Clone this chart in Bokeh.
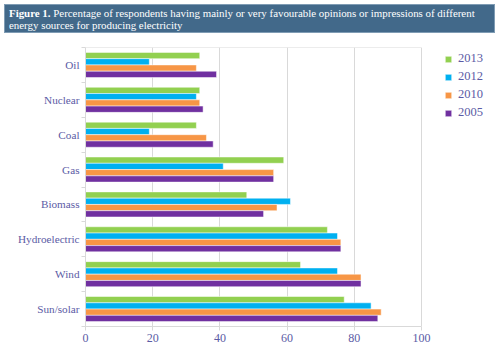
from bokeh.plotting import figure
from bokeh.models import (Range1d, FixedTicker, Legend, LegendItem, Div, ColumnDataSource)
from bokeh.layouts import column
from bokeh.embed import file_html
from bokeh.resources import INLINE

categories = ["Oil", "Nuclear", "Coal", "Gas", "Biomass", "Hydroelectric", "Wind", "Sun/solar"]
years = ["2013", "2012", "2010", "2005"]
v2013 = [34, 34, 33, 59, 48, 72, 64, 77]
v2012 = [19, 33, 19, 41, 61, 75, 75, 85]
v2010 = [33, 34, 36, 56, 57, 76, 82, 88]
v2005 = [39, 35, 38, 56, 53, 76, 82, 87]
x_ticks = [0, 20, 40, 60, 80, 100]

series = [v2013, v2012, v2010, v2005]
colors = ["#92d050", "#00b0f0", "#f79646", "#7030a0"]
offsets = [0.27, 0.09, -0.09, -0.27]
txt = "#5b5ba5"
gray = "#d9d9d9"
serif = "Liberation Serif"

n = len(categories)
centers = [n - i - 0.5 for i in range(n)]

title_html = ("<b>Figure 1.</b> Percentage of respondents having mainly or very favourable "
              "opinions or impressions of different energy sources for producing electricity")
div = Div(text=title_html, width=491, height=29, margin=(4, 3, 4, 4),
          styles={"background-color": "#42698a", "border": "1px solid #7f9cb4",
                  "color": "white", "font-family": serif, "font-size": "10.9px",
                  "line-height": "12px", "padding": "2px 4px", "box-sizing": "border-box",
                  "overflow": "hidden"})

# frame extends into the legend area; x scale keeps 0..100 over 336 px
frame_px = 498 - 85
x_end = x_ticks[-1] * frame_px / 336.0

p = figure(width=498, height=313, output_backend="svg", toolbar_location=None,
           x_range=Range1d(0, x_end), y_range=Range1d(0, n),
           min_border_left=85, min_border_right=0, min_border_top=10, min_border_bottom=24,
           margin=0)
p.outline_line_color = None
p.background_fill_color = "white"
p.border_fill_color = "white"

renderers = []
for yr, vals, c, off in zip(years, series, colors, offsets):
    src = ColumnDataSource(dict(y=[cy + off for cy in centers], right=vals))
    r = p.hbar(y="y", right="right", left=0, height=0.18, source=src,
               fill_color=c, line_color="white", line_width=0.5)
    renderers.append((yr, r))

# top border of the plotting area
p.segment(x0=[x_ticks[0]], y0=[n], x1=[x_ticks[-1]], y1=[n], line_color=gray, line_width=1)

p.xaxis.ticker = FixedTicker(ticks=x_ticks)
p.xaxis.bounds = (x_ticks[0], x_ticks[-1])
p.xgrid.ticker = FixedTicker(ticks=x_ticks)
p.xgrid.grid_line_color = gray
p.ygrid.grid_line_color = None
p.xaxis.axis_line_color = gray
p.xaxis.major_tick_line_color = gray
p.xaxis.major_tick_in = 0
p.xaxis.major_tick_out = 4
p.xaxis.minor_tick_line_color = None
p.xaxis.major_label_text_color = txt
p.xaxis.major_label_text_font = serif
p.xaxis.major_label_text_font_size = "12px"
p.xaxis.major_label_standoff = 3

overrides = {}
for cy, cat in zip(centers, categories):
    overrides[cy] = cat
p.yaxis.ticker = FixedTicker(ticks=centers, minor_ticks=list(range(n + 1)))
p.yaxis.major_label_overrides = overrides
p.yaxis.axis_line_color = gray
p.yaxis.major_tick_line_color = None
p.yaxis.minor_tick_line_color = gray
p.yaxis.minor_tick_in = 0
p.yaxis.minor_tick_out = 4
p.yaxis.major_label_text_color = txt
p.yaxis.major_label_text_font = serif
p.yaxis.major_label_text_font_size = "11.2px"
p.yaxis.major_label_standoff = 0

legend = Legend(items=[LegendItem(label=yr, renderers=[r]) for yr, r in renderers],
                location=(359, 206), orientation="vertical",
                border_line_color=None, background_fill_alpha=0,
                glyph_width=8, glyph_height=8, label_standoff=6,
                label_text_font=serif, label_text_font_size="12.5px", label_text_color=txt,
                label_height=12, spacing=3, padding=0, margin=0)
p.add_layout(legend, "center")

layout = column(div, p, spacing=0, margin=0)
open("out.html", "w").write(file_html(layout, INLINE))
